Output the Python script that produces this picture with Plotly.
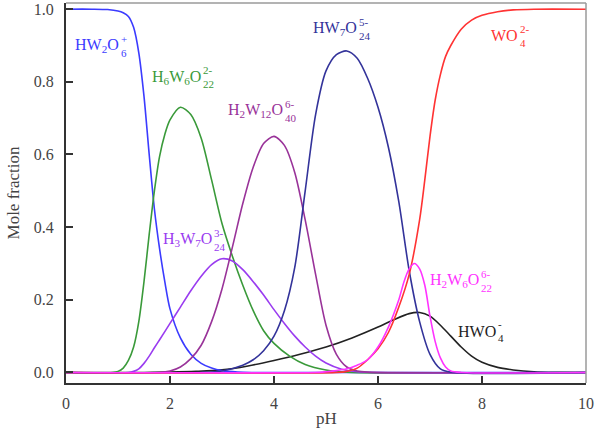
import plotly.graph_objects as go

# ---------------- data ----------------
PH_HW2O6 = [0, 0.5, 0.8, 1.0, 1.1, 1.2, 1.3, 1.4, 1.5, 1.6, 1.7, 1.8, 1.9, 2.0, 2.2, 2.4, 2.6, 2.8, 3.0, 3.3, 3.6, 10]
Y_HW2O6 = [1.0, 1.0, 0.999, 0.995, 0.99, 0.98, 0.95, 0.88, 0.76, 0.60, 0.45, 0.34, 0.25, 0.175, 0.095, 0.05, 0.025, 0.012, 0.005, 0.001, 0, 0]

PH_H6W6O22 = [0, 0.9, 1.0, 1.1, 1.2, 1.3, 1.4, 1.5, 1.6, 1.7, 1.8, 1.9, 2.0, 2.2, 2.4, 2.6, 2.8, 3.0, 3.2, 3.4, 3.6, 3.8, 4.0, 4.3, 4.6, 5.0, 5.4, 10]
Y_H6W6O22 = [0, 0, 0.003, 0.012, 0.033, 0.07, 0.14, 0.25, 0.38, 0.50, 0.595, 0.655, 0.695, 0.73, 0.71, 0.645, 0.53, 0.41, 0.32, 0.24, 0.17, 0.115, 0.08, 0.045, 0.022, 0.007, 0.001, 0]

PH_H3W7O24 = [0, 1.2, 1.3, 1.4, 1.5, 1.6, 1.7, 1.8, 2.0, 2.2, 2.4, 2.6, 2.8, 3.0, 3.2, 3.4, 3.6, 3.8, 4.0, 4.2, 4.4, 4.6, 4.8, 5.0, 5.3, 5.6, 10]
Y_H3W7O24 = [0, 0, 0.003, 0.01, 0.025, 0.045, 0.068, 0.09, 0.135, 0.18, 0.225, 0.265, 0.297, 0.313, 0.307, 0.283, 0.25, 0.213, 0.173, 0.135, 0.10, 0.07, 0.045, 0.026, 0.009, 0.002, 0]

PH_H2W12O40 = [0, 1.8, 2.0, 2.2, 2.4, 2.6, 2.8, 3.0, 3.2, 3.4, 3.6, 3.8, 4.0, 4.2, 4.4, 4.6, 4.8, 5.0, 5.2, 5.4, 5.6, 5.8, 10]
Y_H2W12O40 = [0, 0, 0.004, 0.015, 0.038, 0.075, 0.14, 0.23, 0.345, 0.465, 0.565, 0.63, 0.65, 0.625, 0.55, 0.42, 0.27, 0.13, 0.05, 0.015, 0.004, 0.001, 0]

PH_HW7O24 = [0, 2.6, 3.0, 3.4, 3.6, 3.8, 4.0, 4.2, 4.4, 4.6, 4.8, 5.0, 5.2, 5.4, 5.6, 5.8, 6.0, 6.2, 6.4, 6.6, 6.8, 7.0, 7.2, 7.4, 10]
Y_HW7O24 = [0, 0, 0.004, 0.02, 0.035, 0.06, 0.10, 0.17, 0.29, 0.50, 0.71, 0.83, 0.875, 0.885, 0.865, 0.81, 0.73, 0.62, 0.47, 0.28, 0.14, 0.05, 0.01, 0.001, 0]

PH_WO4 = [0, 5.2, 5.4, 5.6, 5.8, 6.0, 6.2, 6.4, 6.6, 6.8, 6.9, 7.0, 7.1, 7.2, 7.3, 7.4, 7.6, 7.8, 8.0, 8.3, 8.6, 9.0, 10]
Y_WO4 = [0, 0, 0.003, 0.012, 0.035, 0.065, 0.11, 0.18, 0.27, 0.42, 0.53, 0.65, 0.75, 0.82, 0.87, 0.90, 0.945, 0.97, 0.983, 0.993, 0.998, 1.0, 1.0]

PH_H2W6O22 = [0, 4.8, 5.0, 5.2, 5.4, 5.6, 5.8, 6.0, 6.2, 6.4, 6.5, 6.6, 6.7, 6.8, 6.9, 7.0, 7.1, 7.2, 7.3, 7.4, 7.6, 10]
Y_H2W6O22 = [0, 0, 0.002, 0.005, 0.01, 0.02, 0.035, 0.07, 0.125, 0.20, 0.25, 0.285, 0.30, 0.285, 0.24, 0.155, 0.085, 0.04, 0.015, 0.004, 0, 0]

PH_HWO4 = [0, 1.5, 2.0, 2.5, 3.0, 3.5, 4.0, 4.5, 5.0, 5.5, 6.0, 6.3, 6.6, 6.8, 7.0, 7.2, 7.4, 7.6, 7.8, 8.0, 8.3, 8.6, 9.0, 9.5, 10]
Y_HWO4 = [0, 0, 0.001, 0.003, 0.007, 0.018, 0.033, 0.05, 0.07, 0.095, 0.125, 0.145, 0.162, 0.165, 0.155, 0.13, 0.10, 0.07, 0.045, 0.028, 0.014, 0.007, 0.002, 0.0005, 0]

X_TICKS = [0, 2, 4, 6, 8, 10]
Y_TICKS = [0.0, 0.2, 0.4, 0.6, 0.8, 1.0]
Y_TICKTEXT = ["0.0", "0.2", "0.4", "0.6", "0.8", "1.0"]

# label texts: base (left of junction), subscript and superscript (stacked)
LABEL_BASE = ["HW<sub>2</sub>O", "H<sub>6</sub>W<sub>6</sub>O", "H<sub>2</sub>W<sub>12</sub>O", "HW<sub>7</sub>O",
              "WO", "H<sub>3</sub>W<sub>7</sub>O", "H<sub>2</sub>W<sub>6</sub>O", "HWO"]
LABEL_SUB = ["6", "22", "40", "24", "4", "24", "22", "4"]
LABEL_SUP = ["+", "2-", "6-", "5-", "2-", "3-", "6-", "-"]
LABEL_X = [1.04, 2.62, 4.19, 5.62, 8.71, 2.82, 7.96, 8.29]
LABEL_Y = [0.90, 0.813, 0.72, 0.946, 0.927, 0.365, 0.252, 0.114]

BLUE = "#3b3bff"
GREEN = "#3a9a3a"
VIOLET = "#9a3cf0"
PURPLE = "#993399"
NAVY = "#33339a"
RED = "#ff3333"
MAGENTA = "#ff33ff"
BLACK = "#222222"

series = [
    (PH_HWO4, Y_HWO4, BLACK),
    (PH_HW2O6, Y_HW2O6, BLUE),
    (PH_H6W6O22, Y_H6W6O22, GREEN),
    (PH_H3W7O24, Y_H3W7O24, VIOLET),
    (PH_H2W12O40, Y_H2W12O40, PURPLE),
    (PH_HW7O24, Y_HW7O24, NAVY),
    (PH_WO4, Y_WO4, RED),
    (PH_H2W6O22, Y_H2W6O22, MAGENTA),
]
LABEL_COLORS = [BLUE, GREEN, PURPLE, NAVY, RED, VIOLET, MAGENTA, BLACK]

FONT = "Liberation Serif, Times New Roman, Times, serif"

fig = go.Figure()
for xs, ys, col in series:
    fig.add_trace(go.Scatter(x=xs, y=ys, mode="lines",
                             line=dict(color=col, width=1.6, shape="spline", smoothing=0.8),
                             hoverinfo="skip"))

annotations = []
for base, sub, sup, lx, ly, col in zip(LABEL_BASE, LABEL_SUB, LABEL_SUP, LABEL_X, LABEL_Y, LABEL_COLORS):
    annotations.append(dict(x=lx, y=ly, xref="x", yref="y", text=base, showarrow=False,
                            xanchor="right", yanchor="middle", borderpad=0,
                            font=dict(family=FONT, size=16, color=col)))
    annotations.append(dict(x=lx, y=ly, xref="x", yref="y", text=sub, showarrow=False,
                            xanchor="left", yanchor="middle", yshift=-7, borderpad=0,
                            font=dict(family=FONT, size=11, color=col)))
    annotations.append(dict(x=lx, y=ly, xref="x", yref="y", text=sup, showarrow=False,
                            xanchor="left", yanchor="middle", yshift=7, borderpad=0,
                            font=dict(family=FONT, size=11, color=col)))

# x-axis title near the bottom edge, as in the reference
annotations.append(dict(x=0.5, y=0, xref="paper", yref="paper", text="pH", showarrow=False,
                        xanchor="center", yanchor="middle", yshift=-35,
                        font=dict(family=FONT, size=17, color="#444444")))

fig.update_layout(
    width=596, height=429,
    margin=dict(l=66, r=10, t=3, b=46, autoexpand=False),
    paper_bgcolor="white", plot_bgcolor="white",
    showlegend=False,
    font=dict(family=FONT, size=16, color="#444444"),
    annotations=annotations,
    shapes=[
        dict(type="line", xref="paper", yref="paper", x0=0, x1=1, y0=1, y1=1,
             line=dict(color="#9a9a9a", width=1.5)),
        dict(type="line", xref="paper", yref="paper", x0=1, x1=1, y0=0, y1=1,
             line=dict(color="#9a9a9a", width=1.5)),
    ],
    xaxis=dict(range=[0, 10], tickvals=X_TICKS, ticks="inside", ticklen=7, tickwidth=1.5,
               tickcolor="#333333", showline=True, linecolor="#333333", linewidth=2,
               showgrid=False, zeroline=False, ticklabelstandoff=5, automargin=False,
               tickfont=dict(family=FONT, size=16, color="#444444")),
    yaxis=dict(range=[-0.029, 1.017], tickvals=Y_TICKS, ticktext=Y_TICKTEXT, ticks="inside",
               ticklen=7, tickwidth=1.5, tickcolor="#333333", showline=True, linecolor="#333333",
               linewidth=2, showgrid=False, zeroline=False, ticklabelstandoff=7, automargin=False,
               tickfont=dict(family=FONT, size=16, color="#444444"),
               title=dict(text="Mole fraction", font=dict(family=FONT, size=17, color="#444444"), standoff=10)),
)

fig.write_html("out.html")
